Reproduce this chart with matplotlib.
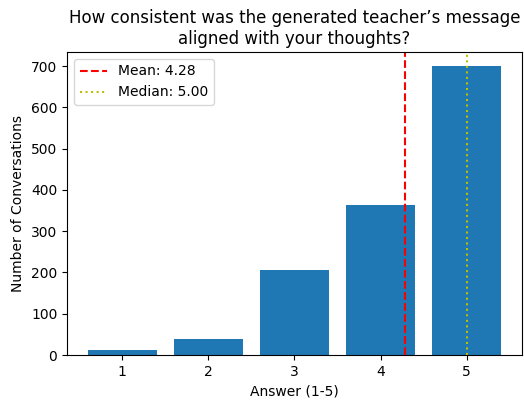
import matplotlib
matplotlib.use("Agg")
import matplotlib.pyplot as plt

answers = [1, 2, 3, 4, 5]
counts = [13, 40, 205, 364, 699]
mean_value = 4.28
median_value = 5.00

fig, ax = plt.subplots(figsize=(5.24, 4.03), dpi=100)
fig.subplots_adjust(left=0.128, right=0.996, top=0.871, bottom=0.119)

ax.bar(answers, counts, color="#1f77b4")
ax.axvline(mean_value, color="red", linestyle="--", label="Mean: %.2f" % mean_value)
ax.axvline(median_value, color="y", linestyle=":", label="Median: %.2f" % median_value)

ax.set_xticks(answers)
ax.set_xlabel("Answer (1-5)")
ax.set_ylabel("Number of Conversations")
ax.set_title("How consistent was the generated teacher\u2019s message\naligned with your thoughts?")
ax.legend(loc="upper left")

plt.savefig("out.png")
